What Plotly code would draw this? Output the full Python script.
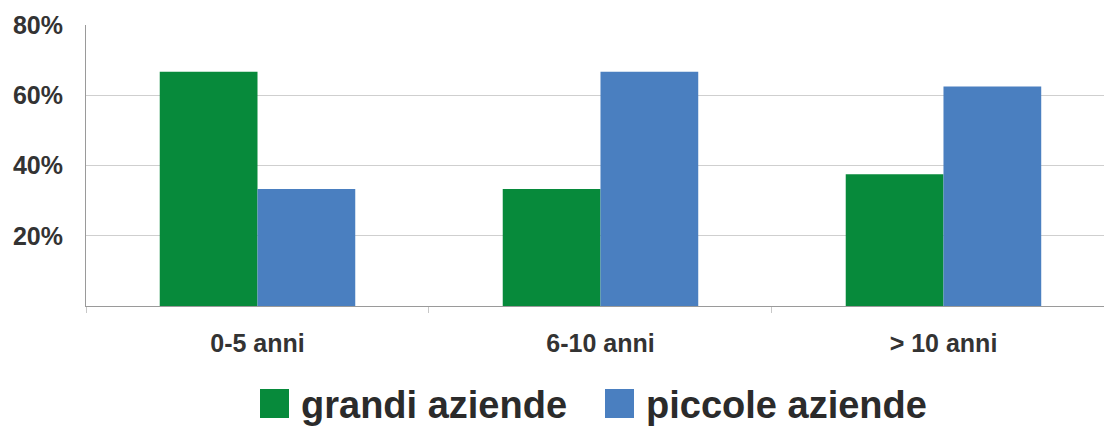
import plotly.graph_objects as go

# Quota per anzianità, grandi vs piccole aziende
categorie = ["0-5 anni", "6-10 anni", "> 10 anni"]
serie_nomi = ["grandi aziende", "piccole aziende"]
grandi = [66.7, 33.3, 37.5]
piccole = [33.3, 66.7, 62.5]
y_tick_vals = [20, 40, 60, 80]
y_tick_text = ["20%", "40%", "60%", "80%"]

colori = ["#078a3b", "#4a7fc0"]
FONT = "Liberation Sans, Arial, sans-serif"

fig = go.Figure()
for nome, valori, col in zip(serie_nomi, [grandi, piccole], colori):
    fig.add_trace(go.Bar(
        x=categorie, y=valori, name=nome,
        marker=dict(color=col, line=dict(width=0)),
        showlegend=False,
    ))

fig.update_layout(
    width=1104, height=430,
    margin=dict(l=86, r=0, t=25, b=124),
    paper_bgcolor="white", plot_bgcolor="white",
    barmode="group", bargap=0.43, bargroupgap=0,
    font=dict(family=FONT, color="#333333"),
)

fig.update_xaxes(
    range=[-0.5, 2.468],
    showline=True, linecolor="#9a9a9a", linewidth=1,
    showgrid=False, tickson="boundaries",
    ticks="outside", ticklen=6, tickcolor="#c8c8c8",
    ticklabelstandoff=15,
    tickfont=dict(size=25, family=FONT, color="#333333", weight="bold"),
)
fig.update_yaxes(
    range=[0, 80],
    tickvals=y_tick_vals, ticktext=y_tick_text,
    showline=True, linecolor="#9a9a9a", linewidth=1,
    showgrid=True, gridcolor="#cfcfcf", gridwidth=1,
    zeroline=False, ticks="", ticklabelstandoff=17,
    tickfont=dict(size=25, family=FONT, color="#333333", weight="bold"),
)

# Legenda disegnata a mano: quadrati colorati e testo grande
W, H, X0, Y0 = 1018, 281, 86, 306
leg_x = [260, 605]
leg_text_x = [299, 644]
for nome, col, xq, xt in zip(serie_nomi, colori, leg_x, leg_text_x):
    fig.add_shape(
        type="rect", xref="paper", yref="paper",
        x0=(xq - X0) / W, x1=(xq + 29 - X0) / W,
        y0=(Y0 - 418) / H, y1=(Y0 - 389) / H,
        fillcolor=col, line=dict(width=0),
    )
    fig.add_annotation(
        xref="paper", yref="paper",
        x=(xt - X0) / W, y=(Y0 - 405) / H,
        xanchor="left", yanchor="middle", showarrow=False,
        text=nome,
        font=dict(size=38, family=FONT, color="#2b2b2b", weight="bold"),
    )

fig.write_html("out.html")
